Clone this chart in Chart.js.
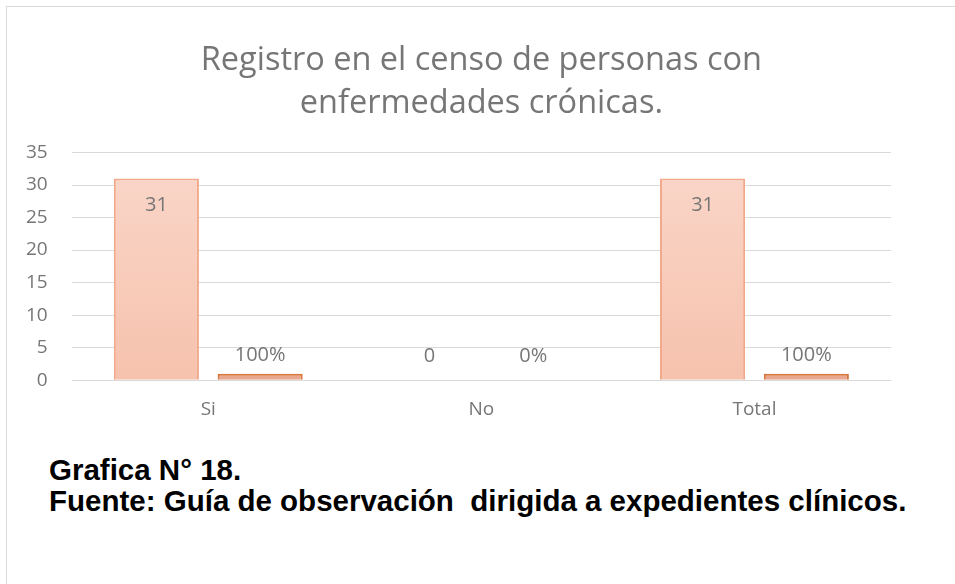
<!DOCTYPE html>
<html>
<head>
<meta charset="utf-8">
<script src="https://cdn.jsdelivr.net/npm/chart.js@4.4.1/dist/chart.umd.min.js"></script>
<style>
  html, body { margin: 0; padding: 0; background: #fff; }
  body { width: 955px; height: 584px; position: relative; overflow: hidden; }
  #frame { position: absolute; left: 6px; top: 6px; width: 1000px; height: 700px; border: 1px solid #d9d9d9; }
  #wrap { position: absolute; left: 0; top: 0; width: 955px; height: 431px; }
  .caption { position: absolute; left: 49px; top: 454px; font-family: "Liberation Sans", Arial, sans-serif;
             font-weight: bold; font-size: 29.5px; line-height: 31px; color: #000; white-space: pre; }
</style>
</head>
<body>
<div id="frame"></div>
<div id="wrap"><canvas id="censoChart"></canvas></div>
<div class="caption">Grafica N° 18.
Fuente: Guía de observación  dirigida a expedientes clínicos.</div>
<script>
// datos
const categories = ["Si", "No", "Total"];
const frecuencia = [31, 0, 31];
const porcentaje = [1, 0, 1]; // 100% se dibuja como 1
const yTicks = [0, 5, 10, 15, 20, 25, 30, 35];

const grey = "#767676";

function gradient(ctx, top, bottom) {
  const area = ctx.chart.chartArea;
  if (!area) return bottom;
  const g = ctx.chart.ctx.createLinearGradient(0, area.top, 0, area.bottom);
  g.addColorStop(0, top);
  g.addColorStop(1, bottom);
  return g;
}

// etiquetas de datos (sin plugin externo)
const valueLabels = {
  id: "valueLabels",
  afterDatasetsDraw(chart) {
    const ctx = chart.ctx;
    const base = chart.scales.y.getPixelForValue(0);
    ctx.save();
    ctx.font = "20px 'Open Sans', sans-serif";
    ctx.fillStyle = grey;
    ctx.textAlign = "center";
    ctx.textBaseline = "middle";
    chart.data.datasets.forEach((ds, i) => {
      chart.getDatasetMeta(i).data.forEach((bar, j) => {
        const v = ds.data[j];
        let y;
        if (v === 0) y = base - 24;
        else if (i === 0) y = bar.y + 27;
        else y = bar.y - 18;
        const text = i === 0 ? String(v) : Math.round(v * 100) + "%";
        ctx.fillText(text, bar.x, y);
      });
    });
    ctx.restore();
  }
};

new Chart(document.getElementById("censoChart"), {
  type: "bar",
  data: {
    labels: categories,
    datasets: [
      {
        label: "Frecuencia",
        data: frecuencia,
        backgroundColor: (c) => gradient(c, "#fad7ca", "#f6c2ad"),
        borderColor: "#f2a98b",
        borderWidth: 2,
        borderSkipped: "bottom",
      },
      {
        label: "Porcentaje",
        data: porcentaje,
        backgroundColor: "#e8a78e",
        borderColor: "#d8763a",
        borderWidth: 2,
        borderSkipped: "bottom",
      },
    ],
  },
  options: {
    responsive: true,
    maintainAspectRatio: false,
    animation: false,
    categoryPercentage: 0.76,
    barPercentage: 0.82,
    layout: { padding: { top: 31, left: 2, right: 64, bottom: 0 } },
    plugins: {
      legend: { display: false },
      tooltip: { enabled: false },
      title: {
        display: true,
        fullSize: false,
        text: ["Registro en el censo de personas con", "enfermedades crónicas."],
        color: grey,
        font: { family: "'Open Sans', sans-serif", size: 32.5, weight: "normal", lineHeight: 1.3 },
        padding: { top: 9, bottom: 28 },
      },
    },
    scales: {
      x: {
        grid: { display: false },
        border: { display: false },
        ticks: { color: grey, font: { family: "'Open Sans', sans-serif", size: 19 }, padding: 10 },
      },
      y: {
        min: 0,
        max: 35,
        afterBuildTicks: (axis) => { axis.ticks = yTicks.map((v) => ({ value: v })); },
        grid: { color: "#d9d9d9", lineWidth: 1, drawTicks: false },
        border: { display: false },
        ticks: { color: grey, font: { family: "'Open Sans', sans-serif", size: 19 }, padding: 24 },
      },
    },
  },
  plugins: [valueLabels],
});
</script>
</body>
</html>
